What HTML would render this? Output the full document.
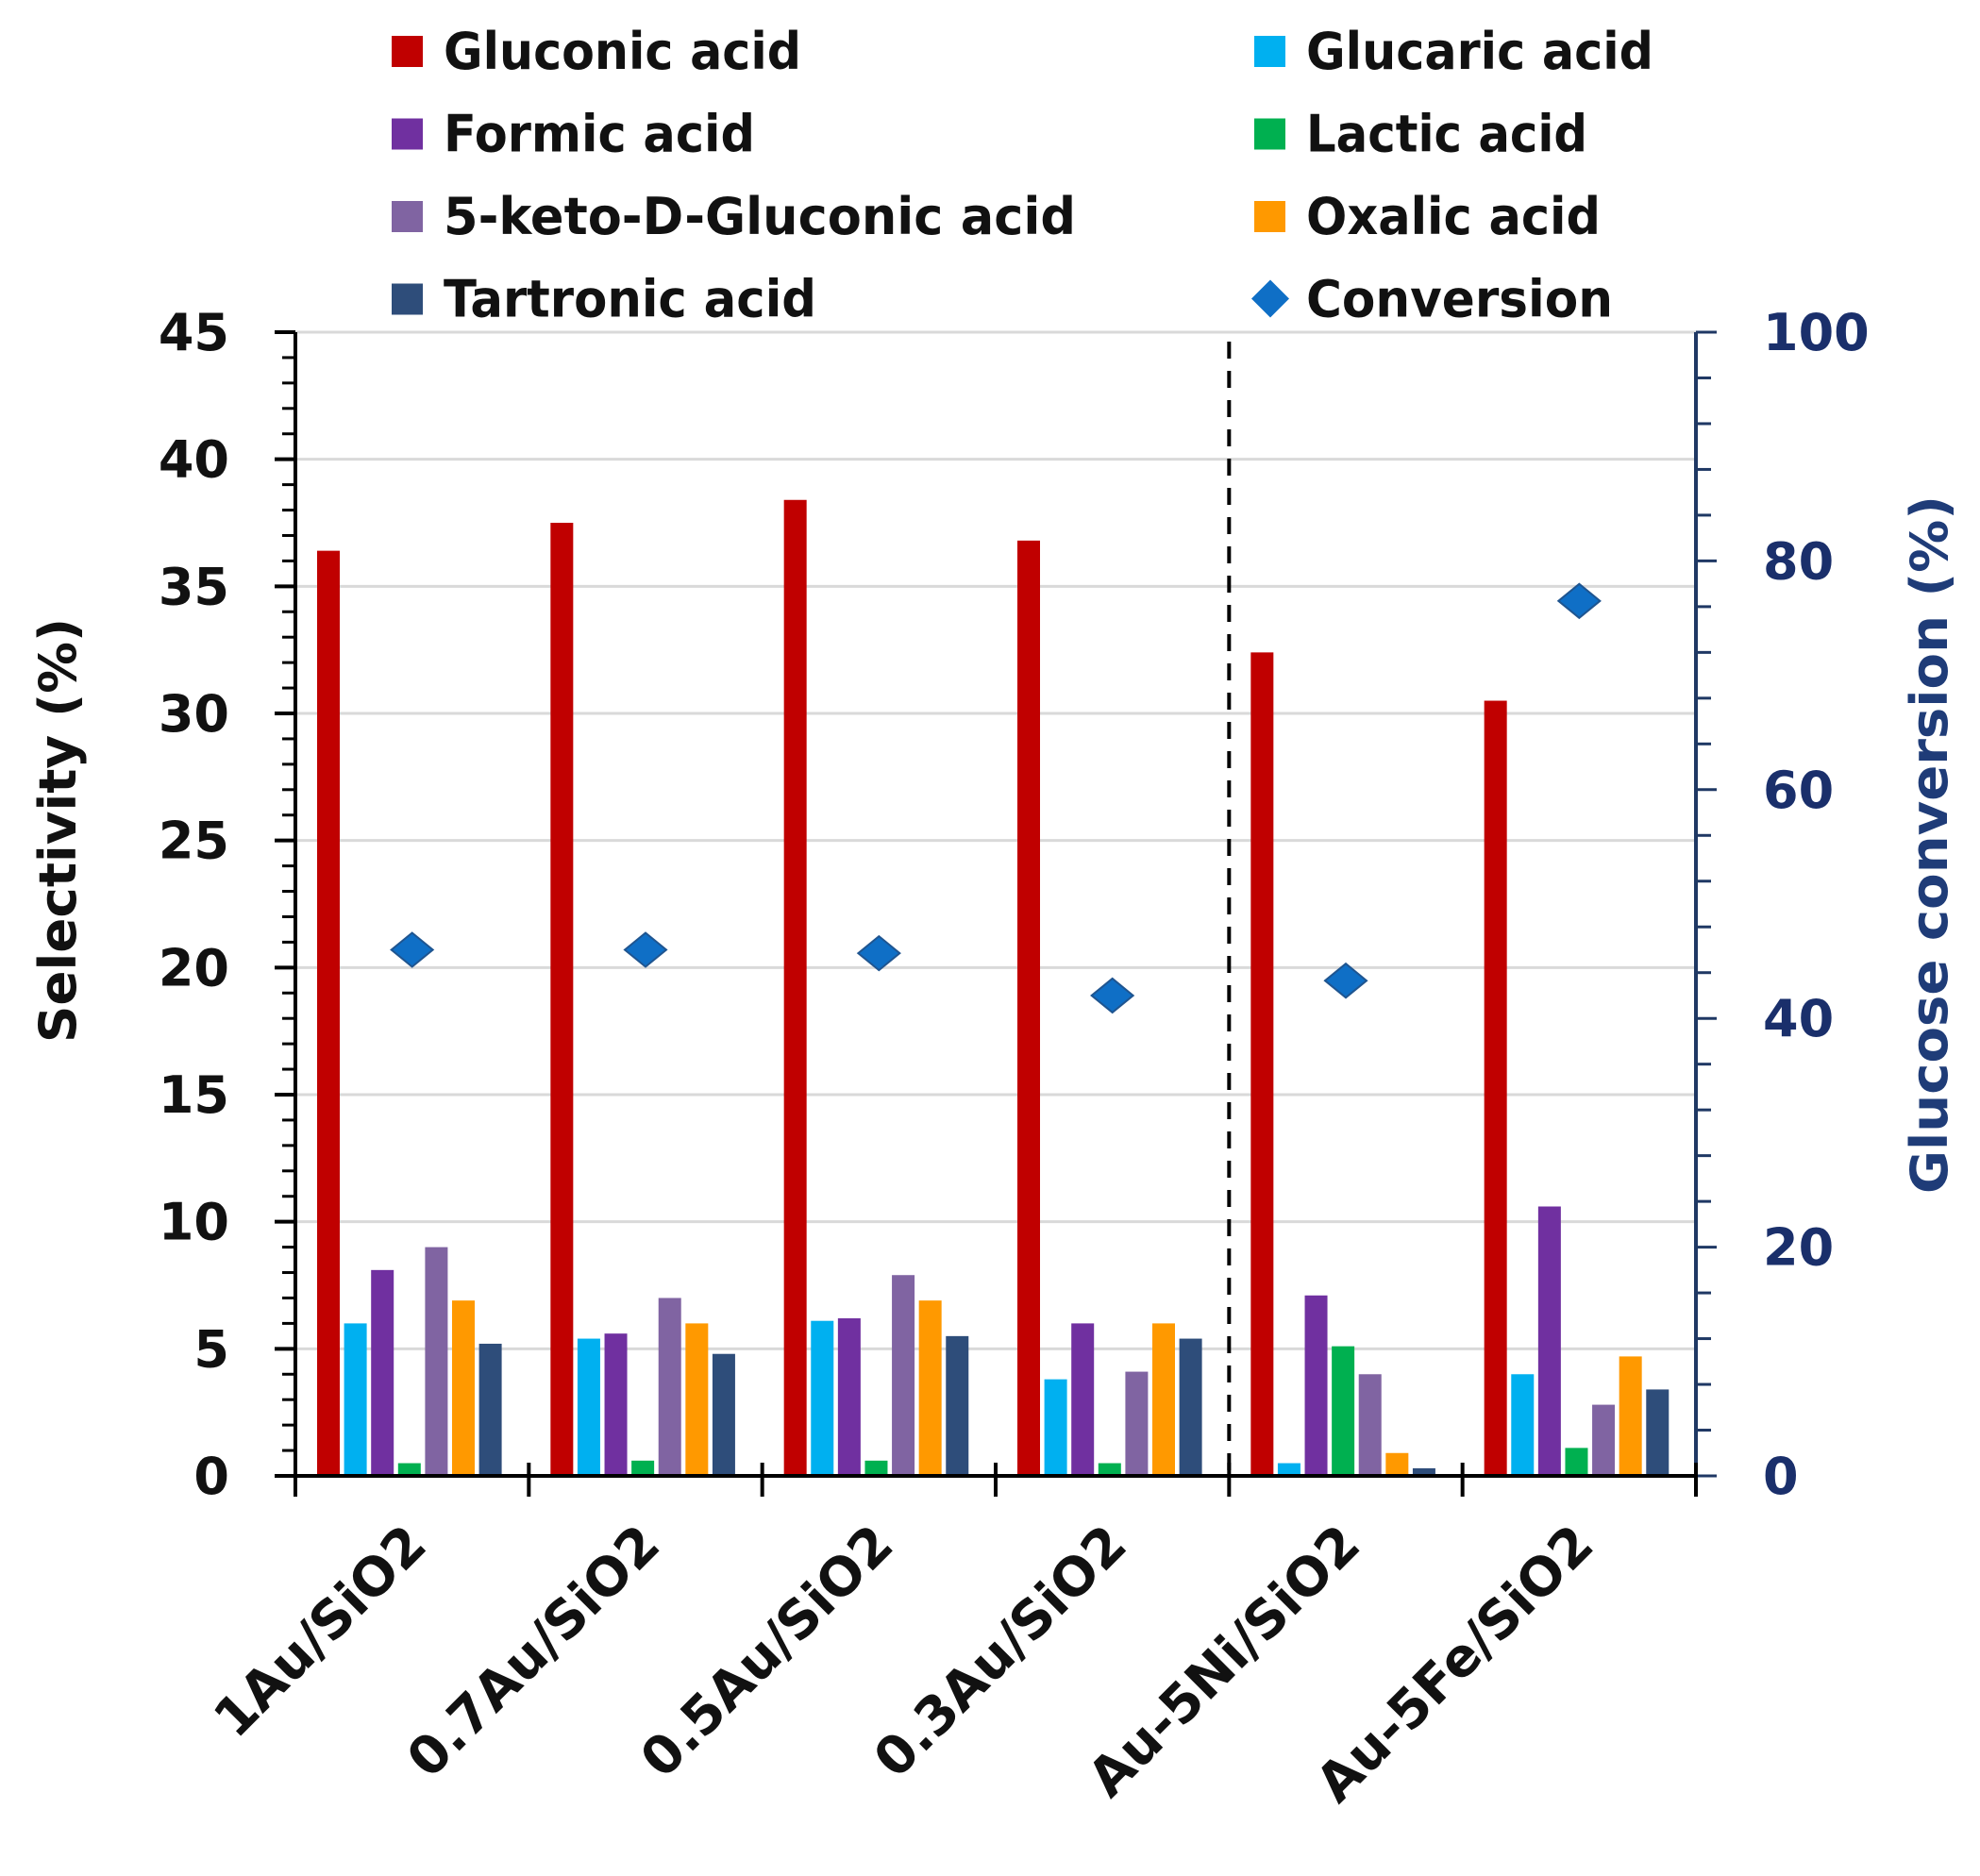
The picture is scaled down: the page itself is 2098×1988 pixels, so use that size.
<!DOCTYPE html>
<html><head><meta charset="utf-8"><style>
html,body{margin:0;padding:0;background:#fff;}
svg{display:block;}
text{font-family:"DejaVu Sans","Liberation Sans",sans-serif;font-weight:bold;}
</style></head><body>
<svg id="chart" width="2098" height="1988" viewBox="0 0 2098 1988" xmlns="http://www.w3.org/2000/svg"></svg>
<script>
const categories = ["1Au/SiO2","0.7Au/SiO2","0.5Au/SiO2","0.3Au/SiO2","Au-5Ni/SiO2","Au-5Fe/SiO2"];
const seriesNames = ["Gluconic acid","Glucaric acid","Formic acid","Lactic acid","5-keto-D-Gluconic  acid","Oxalic acid","Tartronic acid"];
const gluconic = [36.4,37.5,38.4,36.8,32.4,30.5];
const glucaric = [6.0,5.4,6.1,3.8,0.5,4.0];
const formic = [8.1,5.6,6.2,6.0,7.1,10.6];
const lactic = [0.5,0.6,0.6,0.5,5.1,1.1];
const keto = [9.0,7.0,7.9,4.1,4.0,2.8];
const oxalic = [6.9,6.0,6.9,6.0,0.9,4.7];
const tartronic = [5.2,4.8,5.5,5.4,0.3,3.4];
const conversion = [46.0,46.0,45.7,42.0,43.3,76.5];
const leftTicks = [0,5,10,15,20,25,30,35,40,45];
const rightTicks = [0,20,40,60,80,100];

const colors = ["#c00000","#00b0f0","#7030a0","#00b050","#8064a2","#ff9900","#2e4d7a"];
const series = [gluconic,glucaric,formic,lactic,keto,oxalic,tartronic];
const NS="http://www.w3.org/2000/svg";
const svg=document.getElementById('chart');
const L=313,R=1797,T=352,B=1564;
const yL=v=>B-v/45*(B-T);
const yR=v=>B-v/100*(B-T);
const gw=(R-L)/categories.length;
const xG=i=>L+i*gw;
function mk(tag,attrs,parent){const e=document.createElementNS(NS,tag);for(const k in attrs)e.setAttribute(k,attrs[k]);(parent||svg).appendChild(e);return e;}

leftTicks.forEach(v=>{if(v===0)return;
  const g=mk('line',{x1:L,x2:R,y1:yL(v),y2:yL(v),stroke:'#d9d9d9','stroke-width':3});
  
  
});
series.forEach((s,si)=>{
  s.forEach((v,ci)=>{
    const x=xG(ci)+23+si*28.6;
    const r=mk('rect',{x:x,y:yL(v),width:24,height:B-yL(v),fill:colors[si]});
    
    
  });
});
const dl=mk('line',{x1:xG(4),x2:xG(4),y1:T+10,y2:B,stroke:'#000','stroke-width':4,'stroke-dasharray':'18,13'});


conversion.forEach((v,ci)=>{
  const cx=xG(ci)+gw/2, cy=yR(v);
  const d=mk('polygon',{points:`${cx-22},${cy} ${cx},${cy-18} ${cx+22},${cy} ${cx},${cy+18}`,fill:'#0f6fc6',stroke:'#1f5590','stroke-width':2});
  
  
});
const la=mk('line',{x1:L,x2:L,y1:T,y2:B,stroke:'#000','stroke-width':4});


for(let v=0;v<=45;v++){
  const major=v%5===0;
  mk('line',{x1:L-(major?22:14),x2:L,y1:yL(v),y2:yL(v),stroke:'#000','stroke-width':major?4:3});
}
leftTicks.forEach(v=>{
  const t=mk('text',{x:243,y:yL(v)+19,'text-anchor':'end','font-size':54,fill:'#111'});
  t.textContent=v;
  
  
});
const ra=mk('line',{x1:R,x2:R,y1:T,y2:B,stroke:'#1f3864','stroke-width':4});


for(let v=0;v<=100;v+=4){
  mk('line',{x1:R,x2:R+(v%20===0?22:16),y1:yR(v),y2:yR(v),stroke:'#1f3864','stroke-width':3});
}
rightTicks.forEach(v=>{
  const t=mk('text',{x:1868,y:yR(v)+19,'text-anchor':'start','font-size':54,fill:'#1a2f6b'});
  t.textContent=v;
  
  
});
const xa=mk('line',{x1:L-22,x2:R,y1:B,y2:B,stroke:'#000','stroke-width':4});


for(let i=0;i<=categories.length;i++){
  mk('line',{x1:xG(i),x2:xG(i),y1:B-14,y2:B+22,stroke:'#000','stroke-width':4});
}
categories.forEach((c,ci)=>{
  const ax=xG(ci)+gw/2+18, ay=1640;
  const t=mk('text',{x:ax,y:ay,'text-anchor':'end','font-size':56,fill:'#111',transform:`rotate(-45 ${ax} ${ay})`});
  t.textContent=c;
  
  
});
const lt=mk('text',{x:0,y:0,'text-anchor':'middle','font-size':54,fill:'#111','font-family':'Liberation Sans',textLength:450,lengthAdjust:'spacingAndGlyphs',transform:'translate(80,880) rotate(-90)'});
lt.textContent='Selectivity (%)';


const rt=mk('text',{x:0,y:0,'text-anchor':'middle','font-size':54,fill:'#1f3c78','font-family':'Liberation Sans',textLength:740,lengthAdjust:'spacingAndGlyphs',transform:'translate(2063,895) rotate(-90)'});
rt.textContent='Glucose conversion (%)';


const legItems=[[0,0,0],[1,1,0],[2,0,1],[3,1,1],[4,0,2],[5,1,2],[6,0,3]];
const legW=[379,368,330,298,670,312,395];
legItems.forEach(([si,col,row])=>{
  const sx=col?1329:415, cy=54+row*87.5;
  const r=mk('rect',{x:sx,y:cy-16,width:33,height:33,fill:colors[si]});
  
  
  const t=mk('text',{x:sx+55,y:cy+19,'font-size':54,fill:'#111',textLength:legW[si],lengthAdjust:'spacingAndGlyphs'});
  t.textContent=seriesNames[si];
  
  
});
{
  const sx=1329, cy=54+3*87.5, cx=sx+17;
  const d=mk('polygon',{points:`${cx-20},${cy} ${cx},${cy-20} ${cx+20},${cy} ${cx},${cy+20}`,fill:'#0f6fc6'});
  
  
  const t=mk('text',{x:sx+55,y:cy+19,'font-size':54,fill:'#111',textLength:325,lengthAdjust:'spacingAndGlyphs'});
  t.textContent='Conversion';
  
  
}
</script>
</body></html>
